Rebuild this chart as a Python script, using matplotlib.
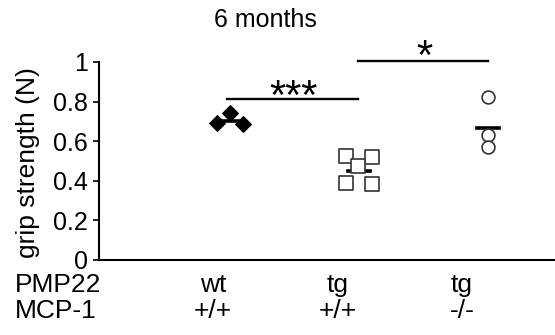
import numpy as np
import matplotlib
matplotlib.use("Agg")
from matplotlib import pyplot as plt
from matplotlib import transforms

plt.rcParams['font.family'] = ['Liberation Sans', 'DejaVu Sans']

# grip strength (N) per animal
wt_vals = [0.74, 0.69, 0.685]
tg_vals = [0.523, 0.518, 0.476, 0.39, 0.385]
ko_vals = [0.825, 0.629, 0.57]
group_means = [0.70, 0.45, 0.668]

pmp22_labels = ['wt', 'tg', 'tg']
mcp1_labels = ['+/+', '+/+', '-/-']
yticks = [0, 0.2, 0.4, 0.6, 0.8, 1]
ytick_labels = ['0', '0.2', '0.4', '0.6', '0.8', '1']

# horizontal spread of the dots inside each group
wt_jit = [0, -0.105, 0.1]
tg_jit = [-0.103, 0.098, -0.005, -0.103, 0.098]
ko_jit = [0, 0, 0]
label_x = [0.868, 1.837, 2.798]

fig = plt.figure(figsize=(5.55, 3.35), dpi=100)
ax = fig.add_axes([0.178, 0.224, 0.822, 0.591])

ax.scatter(1 + np.array(wt_jit), wt_vals, marker='D', s=62, c='black', zorder=3)
ax.scatter(2 + np.array(tg_jit), tg_vals, marker='s', s=95, facecolors='white',
           edgecolors='#333333', linewidths=1.2, zorder=3)
ax.scatter(3 + np.array(ko_jit), ko_vals, marker='o', s=85, facecolors='white',
           edgecolors='#333333', linewidths=1.2, zorder=3)

for i, m in enumerate(group_means):
    ax.plot([i + 1 - 0.085, i + 1 + 0.085], [m, m], color='black', lw=2.6, zorder=2)

# significance brackets
ax.plot([0.977, 1.99], [0.815, 0.815], color='black', lw=1.7, clip_on=False)
ax.plot([1.99, 3.0], [1.005, 1.005], color='black', lw=1.7, clip_on=False)
ax.text(1.49, 0.765, '***', ha='center', va='baseline', fontsize=30)
ax.text(2.51, 0.965, '*', ha='center', va='baseline', fontsize=30, clip_on=False)

ax.set_xlim(-0.02, 3.52)
ax.set_ylim(0, 1)
ax.set_yticks(yticks)
ax.set_yticklabels(ytick_labels, fontsize=18)
ax.set_xticks([])
for s in ['top', 'right']:
    ax.spines[s].set_visible(False)
ax.spines['left'].set_linewidth(1.5)
ax.spines['bottom'].set_linewidth(1.5)
ax.tick_params(axis='y', length=4, width=1.2, pad=4)

fig.text(0.05, 0.516, 'grip strength (N)', rotation=90, ha='center', va='center', fontsize=19)
fig.text(0.478, 0.94, '6 months', ha='center', va='center', fontsize=18)

trans = transforms.blended_transform_factory(ax.transData, fig.transFigure)
row1 = 1 - 285 / 335
row2 = 1 - 311 / 335
fig.text(0.027, row1, 'PMP22', ha='left', va='center', fontsize=19)
fig.text(0.027, row2, 'MCP-1', ha='left', va='center', fontsize=19)
for x, a, b in zip(label_x, pmp22_labels, mcp1_labels):
    ax.text(x, row1, a, transform=trans, ha='center', va='center', fontsize=19)
    ax.text(x, row2, b, transform=trans, ha='center', va='center', fontsize=19)

fig.savefig('out.png', dpi=100)
